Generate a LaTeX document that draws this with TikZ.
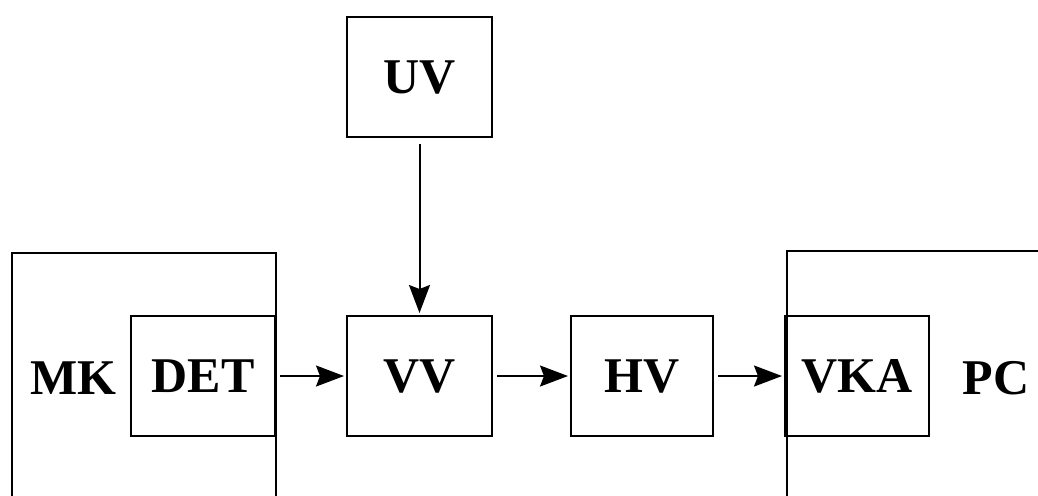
\documentclass[tikz,border=0pt]{standalone}
\usepackage{fontspec}
\setmainfont{Liberation Serif}
\usetikzlibrary{arrows.meta}
\tikzset{
  blk/.style={draw, line width=1pt, rectangle, inner sep=0pt, font=\fontsize{25}{28}\selectfont\bfseries},
  lbl/.style={inner sep=0pt, font=\fontsize{25}{28}\selectfont\bfseries},
  conn/.style={line width=1pt, -{Stealth[length=14pt,width=10.5pt,inset=2pt]}, shorten <=2pt, shorten >=1pt}
}
\begin{document}
\begin{tikzpicture}[x=0.5pt,y=-0.5pt]
\useasboundingbox (0,0) rectangle (1038,495);
\clip (0,0) rectangle (1038,495);
% outer frames
\node[blk, anchor=north west, minimum width=132pt, minimum height=200pt] (mk) at (11,252) {};
\node[blk, anchor=north west, minimum width=200pt, minimum height=200pt] (pc) at (786,250) {};
% blocks
\node[blk, minimum width=72pt, minimum height=60pt] (det) at (203,376) {DET};
\node[blk, minimum width=72.5pt, minimum height=60pt] (vv) at (419.5,376) {VV};
\node[blk, minimum width=72.5pt, minimum height=60pt] (uv) at (419.5,77) {UV};
\node[blk, minimum width=71pt, minimum height=60pt] (hv) at (642,376) {HV};
\node[blk, minimum width=72pt, minimum height=60pt] (vka) at (857,376) {VKA};
% labels of frames
\node[lbl] (mktext) at (73.5,378) {MK};
\node[lbl] (pctext) at (996,378) {PC};
% connectors
\draw[conn] (det.east) -- (vv.west);
\draw[conn] (vv.east) -- (hv.west);
\draw[conn] (hv.east) -- (vka.west);
\draw[conn, shorten <=3pt] (uv.south) -- (vv.north);
\end{tikzpicture}
\end{document}
